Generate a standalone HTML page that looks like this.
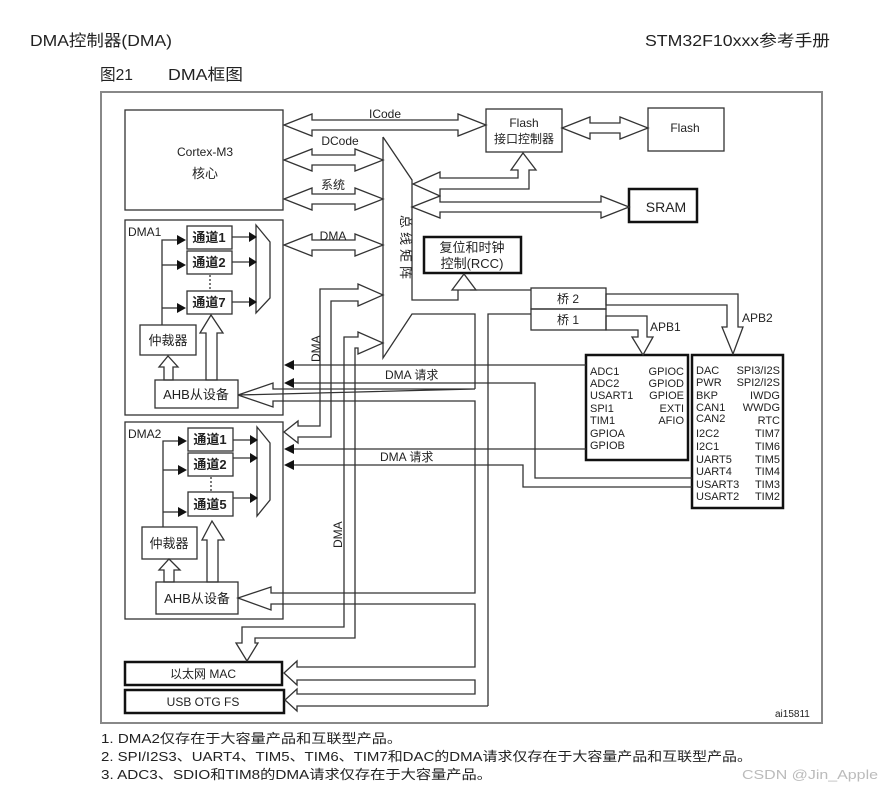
<!DOCTYPE html>
<html><head><meta charset="utf-8"><style>
html,body{margin:0;padding:0;background:#fff;}
svg{display:block;}
text{font-family:"Liberation Sans","Noto Sans CJK SC",sans-serif;fill:#222;}
</style></head><body>
<svg width="881" height="787" viewBox="0 0 881 787" xmlns="http://www.w3.org/2000/svg">
<g font-size="16">
<text x="30" y="46" textLength="142" lengthAdjust="spacingAndGlyphs">DMA控制器(DMA)</text>
<text x="645" y="46" textLength="185" lengthAdjust="spacingAndGlyphs">STM32F10xxx参考手册</text>
<text x="100" y="80" textLength="33" lengthAdjust="spacingAndGlyphs">图21</text>
<text x="168" y="80" textLength="75" lengthAdjust="spacingAndGlyphs">DMA框图</text>
</g>
<rect x="101" y="92" width="721" height="631" fill="none" stroke="#888" stroke-width="2"/>
<g fill="none" stroke="#333" stroke-width="1.3">
<!-- boxes -->
<rect x="125" y="110" width="158" height="100"/>
<rect x="486" y="109" width="76" height="43"/>
<rect x="648" y="108" width="76" height="43"/>
<rect x="629" y="189" width="68" height="33" stroke-width="2.5" stroke="#111"/>
<rect x="424" y="237" width="97" height="36" stroke-width="2.5" stroke="#111"/>
<rect x="531" y="288" width="75" height="21"/>
<rect x="531" y="309" width="75" height="21"/>
<rect x="586" y="355" width="102" height="105" stroke-width="2.5" stroke="#111"/>
<rect x="692" y="355" width="91" height="153" stroke-width="2.5" stroke="#111"/>
<rect x="125" y="220" width="158" height="195"/>
<rect x="125" y="422" width="158" height="197"/>
<rect x="125" y="662" width="157" height="23" stroke-width="2.5" stroke="#111"/>
<rect x="125" y="690" width="159" height="23" stroke-width="2.5" stroke="#111"/>
<!-- bus matrix -->
<polyline points="383,137 383,358 412,314 475,314 475,389"/>
<polyline points="383,137 412,180 412,300 458,300 458,290"/>
<polygon points="452,290 464,274 476,290"/>
<polyline points="470,290 531,290"/>
<polyline points="488,706 488,314 531,314"/>
<!-- double arrows -->
<polygon points="284,125 312,114 312,120 458,120 458,114 486,125 458,136 458,130 312,130 312,136"/>
<polygon points="284,160 312,149 312,155 355,155 355,149 383,160 355,171 355,165 312,165 312,171"/>
<polygon points="284,199 312,188 312,194 355,194 355,188 383,199 355,210 355,204 312,204 312,210"/>
<polygon points="284,245 312,234 312,240 355,240 355,234 383,245 355,256 355,250 312,250 312,256"/>
<polygon points="562,128 590,117 590,123 620,123 620,117 648,128 620,139 620,133 590,133 590,139"/>
<polygon points="412,207 440,196 440,202 601,202 601,196 629,207 601,218 601,212 440,212 440,218"/>
<polygon points="413,184 440,172 440,178 518,178 518,170 511,170 523,153 536,170 529,170 529,189 440,189 440,196"/>
<!-- APB arrows -->
<polygon points="606,316 647,316 647,337 653,337 643,355 632,337 638,337 638,330 606,330"/>
<polygon points="606,294 738,294 738,327 743,327 733,354 722,327 727,327 727,305 606,305"/>
<!-- DMA master L arrows -->
<polygon points="383,295 358,284 358,289 320,289 320,426 298,426 298,421 284,432 298,443 298,437 331,437 331,301 358,301 358,306"/>
<polygon points="383,343 358,332 358,337 344,337 344,627 242,627 242,643 236,643 247,661 258,643 255,643 255,638 355,638 355,348 358,348 358,354"/>
<!-- AHB branches -->
<polygon points="238,395 273,383 273,389 475,389"/>
<polyline points="238,395 273,407 273,401 475,401 475,593 271,593 271,587 238,598 271,610 271,604 475,604 475,667 297,667 297,661 284,673 297,685 297,680 475,680 475,694 297,694 297,689 285,700 297,711 297,706 488,706"/>
<!-- DMA request lines -->
<polyline points="290,365 586,365"/>
<polyline points="290,383 535,383 535,478 692,478"/>
<polyline points="290,449 586,449"/>
<polyline points="290,465 523,465 523,487 692,487"/>
</g>
<g fill="#111">
<polygon points="284,365 294,360 294,370"/>
<polygon points="284,383 294,378 294,388"/>
<polygon points="284,449 294,444 294,454"/>
<polygon points="284,465 294,460 294,470"/>
</g>
<!-- DMA1 internal -->
<g fill="none" stroke="#333" stroke-width="1.3">
<rect x="187" y="226" width="45" height="23"/>
<rect x="187" y="251" width="45" height="23"/>
<rect x="187" y="291" width="45" height="23"/>
<polygon points="256,225 270,242 270,298 256,313"/>
<rect x="140" y="325" width="56" height="30"/>
<rect x="155" y="380" width="83" height="28"/>
<polyline points="162,325 162,240 178,240"/>
<polyline points="162,265 178,265"/><polyline points="162,308 178,308"/>
<polyline points="232,237 250,237"/><polyline points="232,262 250,262"/><polyline points="232,302 250,302"/>
<line x1="210" y1="275" x2="210" y2="290" stroke-dasharray="2,2"/>
<polygon points="164,380 164,367 159,367 168,356 178,367 173,367 173,380"/>
<polygon points="206,380 206,333 200,333 211,315 223,333 217,333 217,380"/>
<!-- DMA2 internal -->
<rect x="188" y="428" width="45" height="23"/>
<rect x="188" y="453" width="45" height="23"/>
<rect x="188" y="492" width="45" height="24"/>
<polygon points="257,427 270,443 270,500 257,516"/>
<rect x="142" y="527" width="55" height="32"/>
<rect x="156" y="582" width="82" height="32"/>
<polyline points="163,527 163,441 179,441"/>
<polyline points="163,470 179,470"/><polyline points="163,512 179,512"/>
<polyline points="233,440 250,440"/><polyline points="233,458 250,458"/><polyline points="233,498 250,498"/>
<line x1="211" y1="477" x2="211" y2="491" stroke-dasharray="2,2"/>
<polygon points="164,582 164,570 159,570 169,559 180,570 174,570 174,582"/>
<polygon points="207,582 207,540 202,540 212,521 224,540 218,540 218,582"/>
</g>
<g fill="#111">
<polygon points="186,240 177,235 177,245"/><polygon points="186,265 177,260 177,270"/><polygon points="186,308 177,303 177,313"/>
<polygon points="257,237 249,232 249,242"/><polygon points="257,262 249,257 249,267"/><polygon points="257,302 249,297 249,307"/>
<polygon points="187,441 178,436 178,446"/><polygon points="187,470 178,465 178,475"/><polygon points="187,512 178,507 178,517"/>
<polygon points="258,440 250,435 250,445"/><polygon points="258,458 250,453 250,463"/><polygon points="258,498 250,493 250,503"/>
</g>
<!-- labels -->
<g font-size="12">
<text x="205" y="156" text-anchor="middle">Cortex-M3</text>
<text x="205" y="178" text-anchor="middle" font-size="13">核心</text>
<text x="385" y="118" text-anchor="middle">ICode</text>
<text x="340" y="145" text-anchor="middle">DCode</text>
<text x="333" y="189" text-anchor="middle">系统</text>
<text x="333" y="240" text-anchor="middle">DMA</text>
<text x="524" y="127" text-anchor="middle">Flash</text>
<text x="524" y="143" text-anchor="middle">接口控制器</text>
<text x="685" y="132" text-anchor="middle">Flash</text>
<text x="666" y="212" text-anchor="middle" font-size="14">SRAM</text>
<text x="472" y="252" text-anchor="middle" font-size="13">复位和时钟</text>
<text x="472" y="268" text-anchor="middle" font-size="13">控制(RCC)</text>
<text x="568" y="303" text-anchor="middle">桥 2</text>
<text x="568" y="324" text-anchor="middle">桥 1</text>
<text x="650" y="331">APB1</text>
<text x="742" y="322">APB2</text>
<text x="128" y="236">DMA1</text>
<text x="128" y="438">DMA2</text>
<text x="168" y="345" text-anchor="middle" font-size="13">仲裁器</text>
<text x="169" y="548" text-anchor="middle" font-size="13">仲裁器</text>
<text x="196" y="399" text-anchor="middle" font-size="13">AHB从设备</text>
<text x="197" y="603" text-anchor="middle" font-size="13">AHB从设备</text>
<text x="385" y="379">DMA  请求</text>
<text x="380" y="461">DMA  请求</text>
<text x="203" y="678" text-anchor="middle">以太网 MAC</text>
<text x="203" y="706" text-anchor="middle">USB OTG FS</text>
<text transform="translate(320,362) rotate(-90)">DMA</text>
<text transform="translate(342,548) rotate(-90)">DMA</text>
<g font-size="13"><text transform="translate(401,215) rotate(90)">总</text><text transform="translate(401,232) rotate(90)">线</text><text transform="translate(401,249) rotate(90)">矩</text><text transform="translate(401,266) rotate(90)">阵</text></g>
<g font-weight="bold" font-size="13">
<text x="209" y="242" text-anchor="middle">通道1</text><text x="209" y="267" text-anchor="middle">通道2</text><text x="209" y="307" text-anchor="middle">通道7</text>
<text x="210" y="444" text-anchor="middle">通道1</text><text x="210" y="469" text-anchor="middle">通道2</text><text x="210" y="509" text-anchor="middle">通道5</text>
</g>
</g>
<g font-size="11">
<text x="590" y="375">ADC1</text><text x="590" y="387">ADC2</text><text x="590" y="399">USART1</text><text x="590" y="412">SPI1</text><text x="590" y="424">TIM1</text><text x="590" y="437">GPIOA</text><text x="590" y="449">GPIOB</text>
<g text-anchor="end"><text x="684" y="375">GPIOC</text><text x="684" y="387">GPIOD</text><text x="684" y="399">GPIOE</text><text x="684" y="412">EXTI</text><text x="684" y="424">AFIO</text></g>
<text x="696" y="374">DAC</text><text x="696" y="386">PWR</text><text x="696" y="399">BKP</text><text x="696" y="411">CAN1</text><text x="696" y="422">CAN2</text><text x="696" y="437">I2C2</text><text x="696" y="450">I2C1</text><text x="696" y="463">UART5</text><text x="696" y="475">UART4</text><text x="696" y="488">USART3</text><text x="696" y="500">USART2</text>
<g text-anchor="end"><text x="780" y="374">SPI3/I2S</text><text x="780" y="386">SPI2/I2S</text><text x="780" y="399">IWDG</text><text x="780" y="411">WWDG</text><text x="780" y="424">RTC</text><text x="780" y="437">TIM7</text><text x="780" y="450">TIM6</text><text x="780" y="463">TIM5</text><text x="780" y="475">TIM4</text><text x="780" y="488">TIM3</text><text x="780" y="500">TIM2</text></g>
<text x="775" y="717" font-size="10">ai15811</text>
</g>
<g font-size="13">
<text x="101" y="743" textLength="301" lengthAdjust="spacingAndGlyphs">1.  DMA2仅存在于大容量产品和互联型产品。</text>
<text x="101" y="761" textLength="651" lengthAdjust="spacingAndGlyphs">2.  SPI/I2S3、UART4、TIM5、TIM6、TIM7和DAC的DMA请求仅存在于大容量产品和互联型产品。</text>
<text x="101" y="779" textLength="391" lengthAdjust="spacingAndGlyphs">3.  ADC3、SDIO和TIM8的DMA请求仅存在于大容量产品。</text>
<text x="742" y="779" textLength="136" lengthAdjust="spacingAndGlyphs" style="fill:#bbb">CSDN @Jin_Apple</text>
</g>
</svg>
</body></html>
